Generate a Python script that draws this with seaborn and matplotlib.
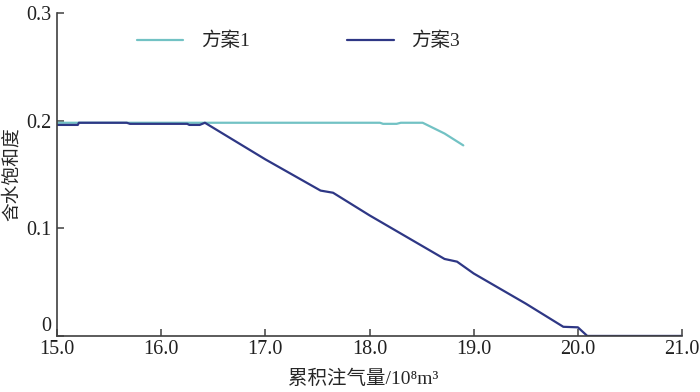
import pandas as pd
import matplotlib
matplotlib.use('Agg')
import matplotlib.pyplot as plt
import seaborn as sns

# Scheme 1 (方案1)
s1_x = [15.0, 15.5, 16.0, 16.5, 17.0, 17.5, 18.1, 18.13, 18.26, 18.3, 18.51, 18.72, 18.9]
s1_y = [0.198, 0.198, 0.198, 0.198, 0.198, 0.198, 0.198, 0.197, 0.197, 0.198, 0.198, 0.188, 0.177]

# Scheme 3 (方案3)
s3_x = [15.0, 15.2, 15.21, 15.67, 15.7, 16.25, 16.27, 16.37, 16.42, 17.0, 17.53, 17.65,
        18.0, 18.72, 18.84, 19.0, 19.5, 19.86, 20.0, 20.09, 21.0]
s3_y = [0.196, 0.196, 0.198, 0.198, 0.197, 0.197, 0.196, 0.196, 0.198, 0.164, 0.135, 0.133,
        0.112, 0.0715, 0.069, 0.058, 0.030, 0.0085, 0.008, 0.0, 0.0]

names = ['方案1', '方案3']
colors = ['#72C2C4', '#2E3785']
x_ticks = [15.0, 16.0, 17.0, 18.0, 19.0, 20.0, 21.0]
y_ticks = [0, 0.1, 0.2, 0.3]
y_tick_labels = ['0', '0.1', '0.2', '0.3']

df = pd.concat([
    pd.DataFrame({'x': s1_x, 'y': s1_y, '方案': names[0]}),
    pd.DataFrame({'x': s3_x, 'y': s3_y, '方案': names[1]}),
])

sns.set_style('ticks')
plt.rcParams['font.family'] = ['Liberation Serif', 'Noto Sans CJK SC']

fig = plt.figure(figsize=(7, 3.92), dpi=100)
ax = fig.add_axes([0.0814, 0.143, 0.893, 0.824])

sns.lineplot(data=df, x='x', y='y', hue='方案', palette=dict(zip(names, colors)),
             linewidth=1.6, sort=False, estimator=None, ax=ax)

ax.set_xlim(15.0, 21.0)
ax.set_ylim(0, 0.3)
ax.set_xticks(x_ticks)
ax.set_xticklabels([f'{t:.1f}' for t in x_ticks])
ax.set_yticks(y_ticks)
ax.set_yticklabels(y_tick_labels)
ax.tick_params(direction='in', length=5, width=1.1, color='#404040',
               labelsize=14.5, colors='#202020')
ax.tick_params(axis='x', pad=3)
ax.tick_params(axis='y', pad=4)
# the "0" label sits a bit above the axis in the original
ax.get_yticklabels()[0].set_va('bottom')
sns.despine(ax=ax)
for s in ['left', 'bottom']:
    ax.spines[s].set_color('#404040')
    ax.spines[s].set_linewidth(1.2)

ax.set_xlabel('累积注气量/10⁸m³', fontsize=14)
ax.xaxis.set_label_coords(0.49, -0.105)
ax.set_ylabel('含水饱和度', fontsize=13.5)
ax.yaxis.set_label_coords(-0.058, 0.5)

ax.legend(loc='center left', bbox_to_anchor=(0.115, 0.913), ncol=2, frameon=False,
          fontsize=14, handlelength=2.4, handletextpad=0.9, columnspacing=5.0,
          borderaxespad=0)

plt.savefig('out.png', dpi=100)
